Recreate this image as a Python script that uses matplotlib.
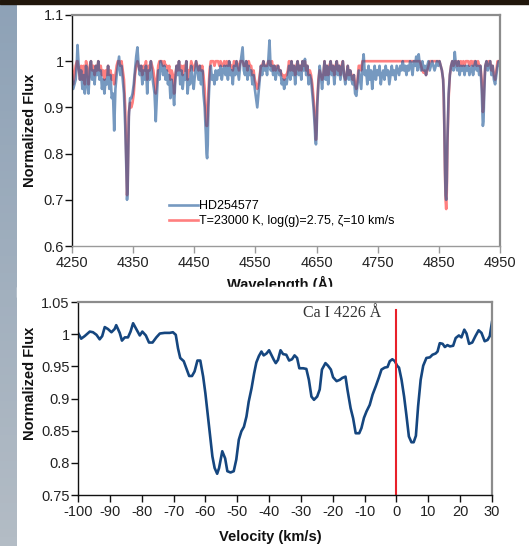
import numpy as np
import matplotlib
matplotlib.use('Agg')
import matplotlib.pyplot as plt
from matplotlib.patches import Rectangle

plt.rcParams['font.family'] = ['Liberation Sans', 'DejaVu Sans']
plt.rcParams['axes.unicode_minus'] = False

# top panel: observed spectrum vs. model, sampled on a shared wavelength grid
wl = [4250, 4252, 4254, 4256, 4258, 4259, 4261, 4263, 4265, 4267, 4269, 4271, 4273,
      4275, 4277, 4279, 4281, 4283, 4285, 4287, 4289, 4291, 4293, 4295, 4297, 4299,
      4301, 4303, 4305, 4307, 4309, 4311, 4313, 4315, 4317, 4319, 4321, 4323, 4325,
      4327, 4329, 4331, 4333, 4335, 4337, 4339, 4340, 4341, 4342, 4343, 4345, 4347,
      4349, 4351, 4353, 4355, 4357, 4359,
      4361, 4363, 4365, 4367, 4369, 4371, 4373, 4375, 4377, 4379, 4381, 4383, 4385,
      4387, 4389, 4391, 4393, 4395, 4397, 4399, 4401, 4403, 4405, 4407, 4409, 4411,
      4413, 4415, 4417, 4419, 4421,
      4423, 4425, 4427, 4429, 4431, 4433, 4435, 4437, 4439, 4441, 4443, 4445, 4447,
      4449, 4451, 4453, 4455, 4457, 4459, 4461, 4463, 4465, 4467, 4469, 4470, 4471,
      4472, 4473, 4475, 4477, 4479, 4481, 4483, 4485, 4487, 4489, 4491, 4493, 4495,
      4497, 4499,
      4501, 4503, 4505, 4507, 4509, 4511, 4513, 4515, 4517, 4519, 4521, 4523, 4525,
      4527, 4529, 4531, 4533, 4535, 4537, 4539, 4541, 4543, 4545, 4547, 4549, 4551,
      4553, 4555, 4557, 4559, 4561, 4563, 4565, 4567, 4569, 4571, 4573, 4575, 4577,
      4579, 4581, 4583, 4585, 4587, 4589, 4591, 4593, 4595, 4597, 4599,
      4601, 4603, 4605, 4607, 4609, 4611, 4613, 4615, 4617, 4619, 4621, 4623, 4625,
      4627, 4629, 4631, 4633, 4635, 4637, 4639, 4641, 4643, 4645, 4647, 4648, 4649,
      4650, 4651, 4653, 4655, 4657, 4659, 4661, 4663, 4665, 4667, 4669, 4671, 4673,
      4675, 4677, 4679, 4681, 4683, 4685, 4687, 4689, 4691, 4693, 4695, 4697, 4699,
      4701, 4703, 4705, 4707, 4709, 4711, 4713, 4715, 4717, 4719, 4721, 4723, 4725,
      4727, 4729, 4731, 4733, 4735, 4737, 4739, 4741, 4743, 4745, 4747, 4749, 4751,
      4753, 4755, 4757, 4759, 4761, 4763, 4765, 4767, 4769, 4771, 4773, 4775, 4777,
      4779, 4781, 4783, 4785, 4787, 4789, 4791, 4793, 4795, 4797, 4799,
      4801, 4803, 4805, 4807, 4809, 4811, 4813, 4815, 4817, 4819, 4821, 4823, 4825,
      4827, 4829, 4831, 4833, 4835, 4837, 4839, 4841, 4843, 4845, 4847, 4849, 4851,
      4853, 4855, 4857, 4858, 4859, 4860, 4861, 4862, 4863, 4864, 4866, 4868, 4870,
      4872, 4874, 4876, 4878, 4880, 4882, 4884, 4886, 4888, 4890, 4892, 4894, 4896,
      4898, 4900, 4902, 4904, 4906, 4908, 4910, 4912, 4914, 4916, 4918, 4920, 4921,
      4922, 4923, 4924, 4925, 4926, 4928, 4930, 4932, 4934, 4936, 4938, 4940, 4942,
      4944, 4946, 4948, 4950]

flux_obs = [0.97, 0.94, 0.95, 0.96, 1.00, 1.035, 0.99, 0.96, 0.98, 0.94, 0.97, 0.93, 0.99,
            0.95, 0.93, 0.98, 1.00, 0.96, 0.98, 0.95, 0.99, 0.97, 1.00, 0.96, 0.98, 0.94,
            0.96, 0.93, 0.96, 0.95, 0.99, 0.94, 0.97, 0.92, 0.93, 0.85, 0.94, 0.97, 0.99,
            1.01, 0.97, 0.99, 0.96, 0.93, 0.86, 0.76, 0.70, 0.72, 0.80, 0.88, 0.92, 0.92,
            0.93, 0.95, 0.98, 1.01, 1.03, 0.99,
            0.97, 0.99, 0.95, 0.98, 0.96, 0.99, 0.93, 0.98, 0.96, 1.00, 0.97, 0.95, 0.93,
            0.87, 0.93, 0.98, 0.96, 1.00, 0.99, 0.97, 0.99, 0.96, 0.98, 0.95, 0.97, 0.92,
            0.96, 0.94, 0.905, 0.96, 0.99,
            0.97, 1.00, 0.95, 0.98, 0.94, 0.97, 0.96, 1.00, 0.93, 0.96, 0.95, 0.99, 0.96,
            0.94, 0.97, 1.00, 0.98, 0.96, 0.99, 0.95, 0.98, 0.93, 0.90, 0.84, 0.80, 0.79,
            0.82, 0.90, 0.96, 0.99, 0.96, 0.97, 0.95, 0.98, 0.96, 0.98, 0.97, 0.99, 0.96,
            0.98, 0.99,
            0.97, 0.99, 0.96, 1.00, 0.97, 0.98, 0.95, 0.99, 0.97, 1.00, 0.98, 0.96, 0.99,
            1.01, 1.03, 0.98, 0.97, 1.00, 0.96, 0.99, 0.97, 0.98, 0.95, 0.97, 0.94, 0.92,
            0.90, 0.93, 0.96, 0.99, 0.97, 1.00, 0.98, 0.99, 0.97, 1.00, 1.045, 0.98, 0.99,
            0.97, 0.99, 0.96, 0.98, 0.99, 0.97, 0.98, 0.95, 0.96, 0.94, 0.96,
            0.95, 0.97, 0.99, 0.96, 1.00, 0.97, 0.99, 0.95, 0.98, 1.00, 0.97, 0.99, 0.96,
            1.00, 0.98, 1.005, 0.97, 0.99, 0.95, 0.97, 0.96, 0.93, 0.90, 0.86, 0.83, 0.82,
            0.84, 0.90, 0.95, 0.99, 0.97, 0.94, 0.97, 1.00, 0.96, 0.99, 0.95, 0.98, 1.00,
            0.97, 0.99, 0.95, 0.98, 1.00, 0.97, 0.99, 0.96, 0.98, 1.00, 0.97, 0.95, 0.97,
            0.99, 0.96, 0.98, 0.96, 0.95, 0.97, 0.93, 0.925, 0.95, 0.98, 0.96, 0.94, 0.99,
            1.015, 0.97, 0.98, 0.95, 0.99, 0.96, 0.98, 0.94, 0.97, 0.99, 0.96, 0.98, 0.97,
            0.99, 0.95, 0.97, 0.98, 0.96, 0.99, 0.97, 0.98, 0.95, 0.97, 0.99, 0.97, 0.98,
            0.96, 0.99, 0.98, 0.97, 0.99, 0.98, 1.00, 0.98, 0.99, 0.97, 0.99,
            0.98, 1.00, 0.99, 0.97, 1.00, 0.99, 1.01, 0.98, 1.015, 0.99, 0.98, 1.00, 0.98,
            0.99, 0.97, 0.99, 1.00, 0.98, 0.99, 1.00, 0.99, 0.98, 0.99, 1.00, 0.99, 1.00,
            0.99, 0.98, 0.96, 0.93, 0.86, 0.77, 0.71, 0.70, 0.74, 0.83, 0.93, 0.97, 0.99,
            1.00, 0.98, 1.02, 0.99, 0.98, 1.00, 0.97, 0.99, 0.98, 0.99, 0.97, 0.99, 0.98,
            0.99, 0.97, 0.98, 0.99, 0.97, 0.99, 1.00, 0.98, 0.99, 0.97, 0.99, 0.94, 0.90,
            0.86, 0.87, 0.92, 0.96, 0.99, 1.00, 0.98, 0.99, 1.00, 0.97, 0.99, 0.96, 0.95,
            0.97, 0.99, 1.00, 0.99]

flux_model = [0.99, 0.95, 0.97, 0.99, 1.00, 1.00, 0.98, 0.96, 0.99, 0.96, 0.99, 0.95, 1.00,
              0.98, 0.95, 0.99, 1.00, 0.98, 0.99, 0.97, 0.99, 0.98, 1.00, 0.98, 0.99, 0.97,
              0.98, 0.96, 0.98, 0.97, 0.99, 0.97, 0.98, 0.96, 0.97, 0.95, 0.97, 0.99, 1.00,
              1.00, 0.99, 1.00, 0.98, 0.96, 0.90, 0.78, 0.71, 0.73, 0.82, 0.89, 0.91, 0.90,
              0.91, 0.93, 0.97, 0.99, 1.00, 0.99,
              0.98, 0.99, 0.97, 0.99, 0.98, 1.00, 0.96, 0.99, 0.98, 1.00, 0.99, 0.98, 0.96,
              0.93, 0.96, 0.99, 1.00, 1.00, 1.00, 0.99, 1.00, 0.99, 0.99, 0.98, 0.99, 0.96,
              0.98, 0.97, 0.93, 0.97, 0.99,
              0.98, 1.00, 0.98, 0.99, 0.97, 0.99, 0.98, 1.00, 0.96, 0.98, 0.98, 1.00, 0.99,
              0.98, 0.99, 1.00, 0.99, 0.98, 0.99, 0.98, 0.99, 0.97, 0.94, 0.88, 0.86, 0.86,
              0.88, 0.93, 0.98, 1.00, 1.00, 1.00, 0.99, 1.00, 1.00, 1.00, 0.99, 1.00, 0.99,
              0.99, 1.00,
              0.99, 1.00, 0.99, 1.00, 0.99, 0.99, 0.98, 1.00, 0.99, 1.00, 0.99, 0.98, 1.00,
              1.00, 1.00, 0.99, 0.99, 1.00, 0.98, 1.00, 0.99, 0.99, 0.97, 0.98, 0.96, 0.95,
              0.94, 0.95, 0.97, 0.99, 0.99, 1.00, 0.99, 0.99, 0.99, 1.00, 1.00, 0.99, 1.00,
              0.98, 0.99, 0.98, 0.99, 0.99, 0.98, 0.98, 0.97, 0.97, 0.96, 0.97,
              0.97, 0.98, 1.00, 0.98, 1.00, 0.98, 0.99, 0.97, 0.99, 1.00, 0.98, 0.99, 0.98,
              1.00, 0.99, 1.00, 0.98, 0.99, 0.97, 0.98, 0.97, 0.95, 0.92, 0.88, 0.85, 0.83,
              0.85, 0.91, 0.96, 0.98, 0.97, 0.96, 0.97, 1.00, 0.97, 0.99, 0.97, 0.99, 1.00,
              0.98, 0.99, 0.97, 0.99, 1.00, 0.98, 0.99, 0.97, 0.99, 1.00, 0.97, 0.96, 0.97,
              0.99, 0.97, 0.98, 0.97, 0.96, 0.97, 0.95, 0.94, 0.96, 0.99, 0.99, 0.98, 1.00,
              1.00, 1.00, 1.00, 1.00, 1.00, 1.00, 1.00, 1.00, 1.00, 1.00, 1.00, 1.00, 1.00,
              1.00, 1.00, 1.00, 1.00, 1.00, 1.00, 1.00, 1.00, 1.00, 1.00, 1.00, 1.00, 1.00,
              1.00, 1.00, 1.00, 1.00, 1.00, 1.00, 1.00, 1.00, 1.00, 1.00, 1.00,
              1.00, 1.00, 1.00, 1.00, 1.00, 1.00, 1.00, 1.00, 1.00, 1.00, 0.99, 0.98, 0.975,
              0.98, 0.97, 0.98, 0.99, 1.00, 1.00, 1.00, 1.00, 1.00, 1.00, 1.00, 1.00, 1.00,
              0.99, 0.98, 0.96, 0.92, 0.85, 0.76, 0.70, 0.68, 0.72, 0.82, 0.92, 0.97, 0.99,
              1.00, 0.99, 1.00, 1.00, 0.99, 1.00, 0.99, 1.00, 0.99, 1.00, 0.99, 1.00, 1.00,
              1.00, 0.99, 1.00, 1.00, 0.99, 1.00, 1.00, 0.99, 1.00, 0.99, 0.99, 0.96, 0.93,
              0.89, 0.90, 0.94, 0.97, 0.99, 1.00, 0.99, 1.00, 1.00, 0.98, 0.99, 0.97, 0.96,
              0.98, 1.00, 1.00, 1.00]

# bottom panel: Ca I 4226 line profile in velocity space
vel = [-100, -99, -97.9, -96.3, -95.3, -94.2, -93.2, -92.4, -91.6, -90.6, -89.5, -88.5,
       -88, -86.9, -86.2, -85.3, -84.3, -83.5, -82.7, -81.7, -80.6, -79.8, -78.7, -77.7,
       -76.6, -75.4, -74.3, -72.8, -71.2, -70.2, -69.3, -68.6, -67.9, -66.8, -66, -65.1,
       -64.2, -63.4, -62.5, -61.6, -60.7, -60, -59.2, -58.4, -57.8, -57.1, -56.3, -55.7,
       -54.7, -53.8, -53.1, -52.1, -51.1, -50.3, -49.5, -48.7, -47.9, -47.1, -46.4, -45.5,
       -44.7, -44, -43.2, -42.4, -41.7, -40.8, -40, -39.3, -38.5, -37.9, -37.2, -36.4,
       -35.6, -34.6, -33.7, -32.8, -32, -31.2, -30.5, -29.3, -28.3, -27.5, -26.7, -25.9,
       -24.9, -24.1, -23.4, -22.3, -21.5, -20.6, -19.9, -18.8, -17.8, -17, -16, -15.4,
       -14.4, -13.6, -12.8, -11.7, -11, -10.2, -9.4, -8.4, -7.5, -6.5, -5.5, -4.7, -3.7,
       -2.8, -2.1, -1.3, -0.5, 0.2, 0.8, 1.6, 2.4, 3.1, 3.9, 4.7, 5.4, 6.1, 6.8, 7.6, 8.4,
       9.4, 10.5, 11.3, 12.3, 12.9, 13.6, 14.5, 15.2, 16, 16.8, 17.8, 18.6, 19.6, 20.4,
       21.3, 22, 22.8, 23.8, 24.8, 25.8, 26.7, 27.7, 28.6, 29.3, 30]
flux_ca = [1.002, 0.993, 0.997, 1.004, 1.003, 0.999, 0.992, 0.997, 1.011, 1.008, 1.003,
           1.008, 1.014, 1.002, 0.990, 0.995, 0.995, 1.004, 1.017, 1.008, 0.998, 1.004,
           0.998, 0.987, 0.987, 0.995, 1.001, 1.002, 1.002, 1.003, 0.999, 0.978, 0.963,
           0.958, 0.947, 0.935, 0.935, 0.942, 0.959, 0.959, 0.934, 0.908, 0.872, 0.836,
           0.810, 0.792, 0.783, 0.792, 0.818, 0.807, 0.787, 0.785, 0.787, 0.805, 0.836,
           0.849, 0.856, 0.872, 0.895, 0.916, 0.939, 0.956, 0.966, 0.973, 0.967, 0.970,
           0.975, 0.968, 0.960, 0.955, 0.960, 0.975, 0.969, 0.968, 0.959, 0.961, 0.967,
           0.963, 0.947, 0.947, 0.946, 0.929, 0.903, 0.898, 0.903, 0.914, 0.945, 0.955,
           0.951, 0.945, 0.933, 0.927, 0.929, 0.932, 0.934, 0.914, 0.885, 0.869, 0.846,
           0.846, 0.854, 0.870, 0.880, 0.890, 0.906, 0.919, 0.933, 0.945, 0.948, 0.949,
           0.958, 0.961, 0.958, 0.951, 0.948, 0.929, 0.903, 0.875, 0.841, 0.832, 0.832,
           0.842, 0.888, 0.929, 0.951, 0.963, 0.964, 0.968, 0.970, 0.973, 0.986, 0.985,
           0.980, 0.983, 0.981, 0.982, 0.994, 0.998, 0.995, 1.007, 1.001, 0.985, 0.987,
           0.997, 1.006, 1.002, 0.989, 0.991, 0.997, 1.019]

wl_ticks = [4250, 4350, 4450, 4550, 4650, 4750, 4850, 4950]
flux_ticks_top = [0.6, 0.7, 0.8, 0.9, 1.0, 1.1]
flux_labels_top = ['0.6', '0.7', '0.8', '0.9', '1', '1.1']
vel_ticks = list(range(-100, 31, 10))
flux_ticks_bot = [0.75, 0.8, 0.85, 0.9, 0.95, 1.0, 1.05]
flux_labels_bot = ['0.75', '0.8', '0.85', '0.9', '0.95', '1', '1.05']

assert len(wl) == len(flux_obs) == len(flux_model)
assert len(vel) == len(flux_ca)

W, H = 529, 546
fig = plt.figure(figsize=(W / 100, H / 100), dpi=100)


def px_axes(x0, y0, x1, y1):
    return [x0 / W, 1 - y1 / H, (x1 - x0) / W, (y1 - y0) / H]


def style_axes(ax, bottom_color):
    for side in ('top', 'right'):
        ax.spines[side].set_color('#8c8c8c')
        ax.spines[side].set_linewidth(1.6)
    ax.spines['left'].set_color('#111111')
    ax.spines['left'].set_linewidth(1.0)
    ax.spines['bottom'].set_color(bottom_color)
    ax.spines['bottom'].set_linewidth(1.0)
    ax.tick_params(axis='y', direction='out', length=5, width=1, color='#111111',
                   labelsize=10.5, labelcolor='#222222', pad=1)
    ax.tick_params(axis='x', direction='out', length=5, width=1, color=bottom_color,
                   labelsize=10.5, labelcolor='#222222', pad=2)


# slide decoration: left band and dark top strip
band = fig.add_axes([0, 0, 17 / W, 1])
band.imshow(np.linspace(0, 1, 64).reshape(-1, 1), aspect='auto',
            cmap=matplotlib.colors.LinearSegmentedColormap.from_list(
                'band', ['#8ea2b7', '#b3bcc5']))
band.set_axis_off()
fig.patches.append(Rectangle((0, 1 - 3.5 / H), 1, 3.5 / H, transform=fig.transFigure,
                             color='#21170c', zorder=5))

# top panel
ax1 = fig.add_axes(px_axes(72, 15, 500, 246))
ax1.plot(wl, flux_model, color='#ff2a2a', alpha=0.6, lw=1.9,
         label='T=23000 K, log(g)=2.75, ζ=10 km/s')
ax1.plot(wl, flux_obs, color='#1b5596', alpha=0.6, lw=1.9, label='HD254577')
ax1.set_xlim(4250, 4950)
ax1.set_ylim(0.6, 1.1)
ax1.set_xticks(wl_ticks)
ax1.set_yticks(flux_ticks_top)
ax1.set_yticklabels(flux_labels_top)
style_axes(ax1, '#9a9a9a')
h, l = ax1.get_legend_handles_labels()
ax1.legend(h[::-1], l[::-1], loc='lower left', bbox_to_anchor=(0.215, 0.06),
           frameon=False, fontsize=9, handlelength=2.3, handletextpad=0.1,
           labelspacing=0.25, borderaxespad=0)

fig.text(30 / W, 1 - 130 / H, 'Normalized Flux', rotation=90, ha='center',
         va='center', fontsize=10.5, fontweight='bold', color='#111111')
fig.text(280 / W, 1 - 284 / H, 'Wavelength (Å)', ha='center', va='center',
         fontsize=10.5, fontweight='bold', color='#111111', zorder=2)
# the lower panel sits over the bottom of the first x label
fig.patches.append(Rectangle((17 / W, 1 - 297 / H), 1, 10 / H,
                             transform=fig.transFigure, color='white', zorder=4))

# bottom panel
ax2 = fig.add_axes(px_axes(78, 302, 492, 495))
ax2.set_zorder(4)
ax2.plot(vel, flux_ca, color='#15467f', lw=1.9)
ax2.plot([0, 0], [0.75, 1.038], color='#e8202a', lw=1.5)
ax2.text(-29.5, 1.033, 'Ca I 4226 Å', family=['Liberation Serif', 'DejaVu Serif'],
         fontsize=11.5, color='#333333', va='center', ha='left')
ax2.set_xlim(-100, 30)
ax2.set_ylim(0.75, 1.05)
ax2.set_xticks(vel_ticks)
ax2.set_yticks(flux_ticks_bot)
ax2.set_yticklabels(flux_labels_bot)
style_axes(ax2, '#111111')

fig.text(30 / W, 1 - 383 / H, 'Normalized Flux', rotation=90, ha='center',
         va='center', fontsize=10.5, fontweight='bold', color='#111111')
fig.text(270 / W, 1 - 537 / H, 'Velocity (km/s)', ha='center', va='center',
         fontsize=10.5, fontweight='bold', color='#111111')

fig.savefig('out.png', dpi=100, facecolor='white')
